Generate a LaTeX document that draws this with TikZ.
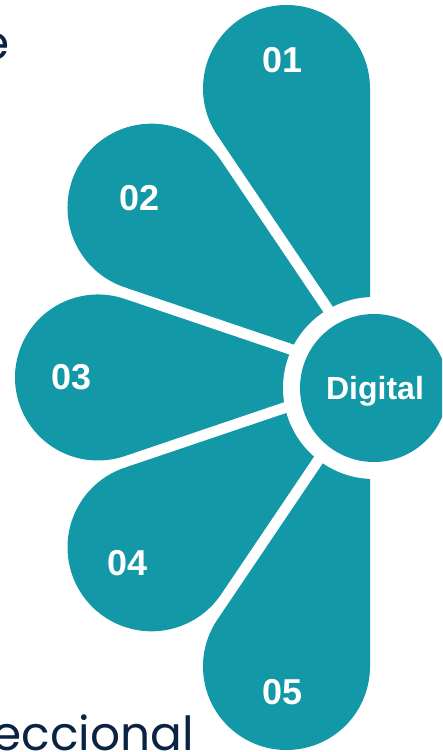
\documentclass[tikz,border=0pt]{standalone}
\usepackage{fontspec}
\setmainfont{Liberation Sans}
\newfontfamily\popfont{Poppins}
\usetikzlibrary{calc}
\definecolor{tealc}{HTML}{1298A7}
\definecolor{navy}{HTML}{0A2342}
\begin{document}
\begin{tikzpicture}[x=1pt,y=1pt,
  num/.style={text=white,font=\fontsize{36}{36}\selectfont\bfseries,inner sep=0pt},
  sidetext/.style={text=navy,font=\popfont\fontsize{47}{47}\selectfont,inner sep=0pt}]
\useasboundingbox (0,0) rectangle (442,752);
\clip (0,0) rectangle (442,752);
\coordinate (G) at (374,374.5);
\foreach \n/\cx/\cy/\r/\a/\b in {1/286.5/663.5/83.5/90/124, 2/151.5/544.3/84/124/161.3, 3/98/374.5/83/161.3/198.7, 4/151.5/204.7/84/198.7/236, 5/286.5/85.5/83.5/236/270}{
  \coordinate (C\n) at (\cx,\cy);
  \coordinate (Tr\n) at ($(C\n)+({\a-90}:\r)$);
  \coordinate (Tl\n) at ($(C\n)+({\b+90}:\r)$);
  \coordinate (Trb\n) at ($(Tr\n)+(\a:10)$);
  \coordinate (Tlb\n) at ($(Tl\n)+(\b:10)$);
  \coordinate (Ir\n) at ($(Tr\n)!(G)!(Trb\n)$);
  \coordinate (Il\n) at ($(Tl\n)!(G)!(Tlb\n)$);
  \fill[tealc] (Ir\n) -- (Tr\n) arc[start angle={\a-90}, end angle={\b+90}, radius=\r pt] -- (Il\n) -- cycle;
}
\fill[white] (374,364) circle[radius=91pt];
\node[circle,fill=tealc,minimum size=148pt,inner sep=0pt] (hub) at (374,364) {};
\node[anchor=base,text=white,font=\fontsize{32}{32}\selectfont\bfseries,inner sep=0pt] (hublabel) at (375,352) {Digital};
\node[num] (n1) at (283,692) {01};
\node[num] (n2) at (140,554) {02};
\node[num] (n3) at (72,375) {03};
\node[num] (n4) at (128,189) {04};
\node[num] (n5) at (283,60) {05};
\node[sidetext,anchor=base east] (topword) at (10,692) {e};
\node[sidetext,anchor=base east] (bottomword) at (194,1.5) {eccional};
\end{tikzpicture}
\end{document}
